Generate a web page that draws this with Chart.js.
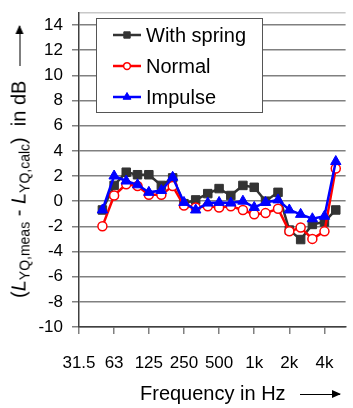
<!DOCTYPE html>
<html>
<head>
<meta charset="utf-8">
<script src="https://cdn.jsdelivr.net/npm/chart.js@4.4.0/dist/chart.umd.min.js"></script>
<style>
body { margin: 0; background: #fff; }
#wrap { position: relative; width: 353px; height: 408px; font-family: "Liberation Sans", Arial, sans-serif; color: #000; }
canvas { position: absolute; left: 0; top: 0; }
.ytitle { position: absolute; left: 20px; top: 162px; transform: translate(-50%, -50%) rotate(-90deg); white-space: nowrap; font-size: 20px; }
.ytitle sub { font-size: 14px; vertical-align: -4px; }
.xtitle { position: absolute; left: 140px; top: 382px; white-space: nowrap; font-size: 20px; }
.arrow { display: inline-block; position: relative; width: 40px; height: 0; border-top: 1.5px solid #000; vertical-align: middle; margin-left: 9px; }
.arrow::after { content: ''; position: absolute; right: -1px; top: -5px; border-left: 9px solid #000; border-top: 4px solid transparent; border-bottom: 4px solid transparent; }
</style>
</head>
<body>
<div id="wrap">
  <canvas id="myChart" width="353" height="408"></canvas>
  <div class="ytitle">(<i>L</i><sub>YQ,meas</sub> - <i>L</i><sub>YQ,calc</sub>)&nbsp; in dB <span class="arrow"></span></div>
  <div class="xtitle">Frequency in Hz <span class="arrow"></span></div>
</div>
<script>
// third-octave bands in Hz
const bands = [50, 63, 80, 100, 125, 160, 200, 250, 315, 400, 500, 630, 800, 1000, 1250, 1600, 2000, 2500, 3150, 4000, 5000];

const withSpring = [-0.7, 1.25, 2.3, 2.1, 2.1, 1.25, 1.85, -0.2, 0.1, 0.6, 1.0, 0.45, 1.25, 1.1, 0.0, 0.7, -2.3, -3.05, -1.85, -1.65, -0.7];
const normal = [-2.0, 0.45, 1.35, 1.2, 0.5, 0.5, 1.2, -0.35, -0.5, -0.4, -0.5, -0.4, -0.7, -1.05, -0.95, -0.6, -2.4, -2.1, -3.0, -2.4, 2.6];
const impulse = [-0.7, 2.0, 1.6, 1.3, 0.7, 0.85, 1.9, -0.1, -0.7, -0.15, -0.1, -0.15, 0.0, -0.5, -0.1, 0.1, -0.7, -1.05, -1.4, -1.2, 3.15];

const seriesNames = ['With spring', 'Normal', 'Impulse'];

const xTicks = [31.5, 63, 125, 250, 500, 1000, 2000, 4000];
const xTickLabels = ['31.5', '63', '125', '250', '500', '1k', '2k', '4k'];
const yTicks = [-10, -8, -6, -4, -2, 0, 2, 4, 6, 8, 10, 12, 14];

const toPoints = (vals) => bands.map((f, i) => ({ x: f, y: vals[i] }));

// legend box drawn inside the plot
const boxLegend = {
    id: 'boxLegend',
    afterDatasetsDraw(chart) {
        const ctx = chart.ctx;
        ctx.save();
        ctx.fillStyle = '#fff';
        ctx.strokeStyle = '#555';
        ctx.lineWidth = 1;
        ctx.fillRect(96.5, 18.5, 166, 94);
        ctx.strokeRect(96.5, 18.5, 166, 94);
        chart.data.datasets.forEach((ds, i) => {
            const y = 35 + i * 31;
            ctx.strokeStyle = ds.borderColor;
            ctx.lineWidth = 2.5;
            ctx.beginPath();
            ctx.moveTo(113, y);
            ctx.lineTo(141, y);
            ctx.stroke();
            ctx.fillStyle = ds.pointBackgroundColor;
            ctx.lineWidth = ds.pointBorderWidth;
            Chart.helpers.drawPoint(ctx, {
                pointStyle: ds.pointStyle,
                radius: ds.pointRadius * 0.75,
                borderWidth: ds.pointBorderWidth,
                rotation: 0
            }, 127, y);
            ctx.fillStyle = '#000';
            ctx.font = '20px "Liberation Sans", Arial, sans-serif';
            ctx.textBaseline = 'middle';
            ctx.fillText(ds.label, 146, y + 1);
        });
        ctx.restore();
    }
};

const ctx = document.getElementById('myChart').getContext('2d');
new Chart(ctx, {
    type: 'line',
    data: {
        datasets: [{
            label: seriesNames[0],
            data: toPoints(withSpring),
            borderColor: '#333333',
            pointBackgroundColor: '#333333',
            pointBorderColor: '#333333',
            pointStyle: 'rect',
            pointRadius: 6,
            pointBorderWidth: 1,
            borderWidth: 2.5,
            order: 3
        }, {
            label: seriesNames[1],
            data: toPoints(normal),
            borderColor: '#ff0000',
            pointBackgroundColor: '#ffffff',
            pointBorderColor: '#ff0000',
            pointStyle: 'circle',
            pointRadius: 4.5,
            pointBorderWidth: 1.5,
            borderWidth: 2.5,
            order: 2
        }, {
            label: seriesNames[2],
            data: toPoints(impulse),
            borderColor: '#0000ff',
            pointBackgroundColor: '#0000ff',
            pointBorderColor: '#0000ff',
            pointStyle: 'triangle',
            pointRadius: 6,
            pointBorderWidth: 1,
            borderWidth: 2.5,
            order: 1
        }]
    },
    options: {
        responsive: false,
        animation: false,
        layout: { padding: { top: 9.5, right: 0, left: 0, bottom: 0 } },
        plugins: { legend: { display: false }, tooltip: { enabled: false } },
        elements: { line: { tension: 0 } },
        scales: {
            x: {
                type: 'logarithmic',
                min: 31.5,
                max: 6070,
                border: { color: '#404040', width: 1.5 },
                grid: { drawOnChartArea: false, tickLength: 7, color: '#808080', lineWidth: 1.5 },
                ticks: {
                    autoSkip: false,
                    maxRotation: 0,
                    color: '#000',
                    padding: 19,
                    font: { family: '"Liberation Sans", Arial, sans-serif', size: 17 },
                    callback: (v, i) => xTickLabels[i]
                },
                afterBuildTicks: (s) => { s.ticks = xTicks.map(v => ({ value: v })); },
                afterFit: (s) => { s.height = 81; }
            },
            y: {
                min: -10,
                max: 15,
                border: { color: '#404040', width: 1.5 },
                grid: {
                    tickLength: 7,
                    lineWidth: 1.5,
                    color: (c) => (c.tick && c.tick.value === 15 ? '#c8c8c8' : '#808080'),
                    tickColor: (c) => (c.tick && c.tick.value === 15 ? 'rgba(0,0,0,0)' : '#808080')
                },
                ticks: {
                    color: '#000',
                    padding: 9,
                    font: { family: '"Liberation Sans", Arial, sans-serif', size: 17, lineHeight: 0.4 },
                    callback: (v) => (v === 15 ? '' : v)
                },
                afterBuildTicks: (s) => { s.ticks = yTicks.concat([15]).map(v => ({ value: v })); },
                afterFit: (s) => { s.width = 79; }
            }
        }
    },
    plugins: [boxLegend]
});
</script>
</body>
</html>
